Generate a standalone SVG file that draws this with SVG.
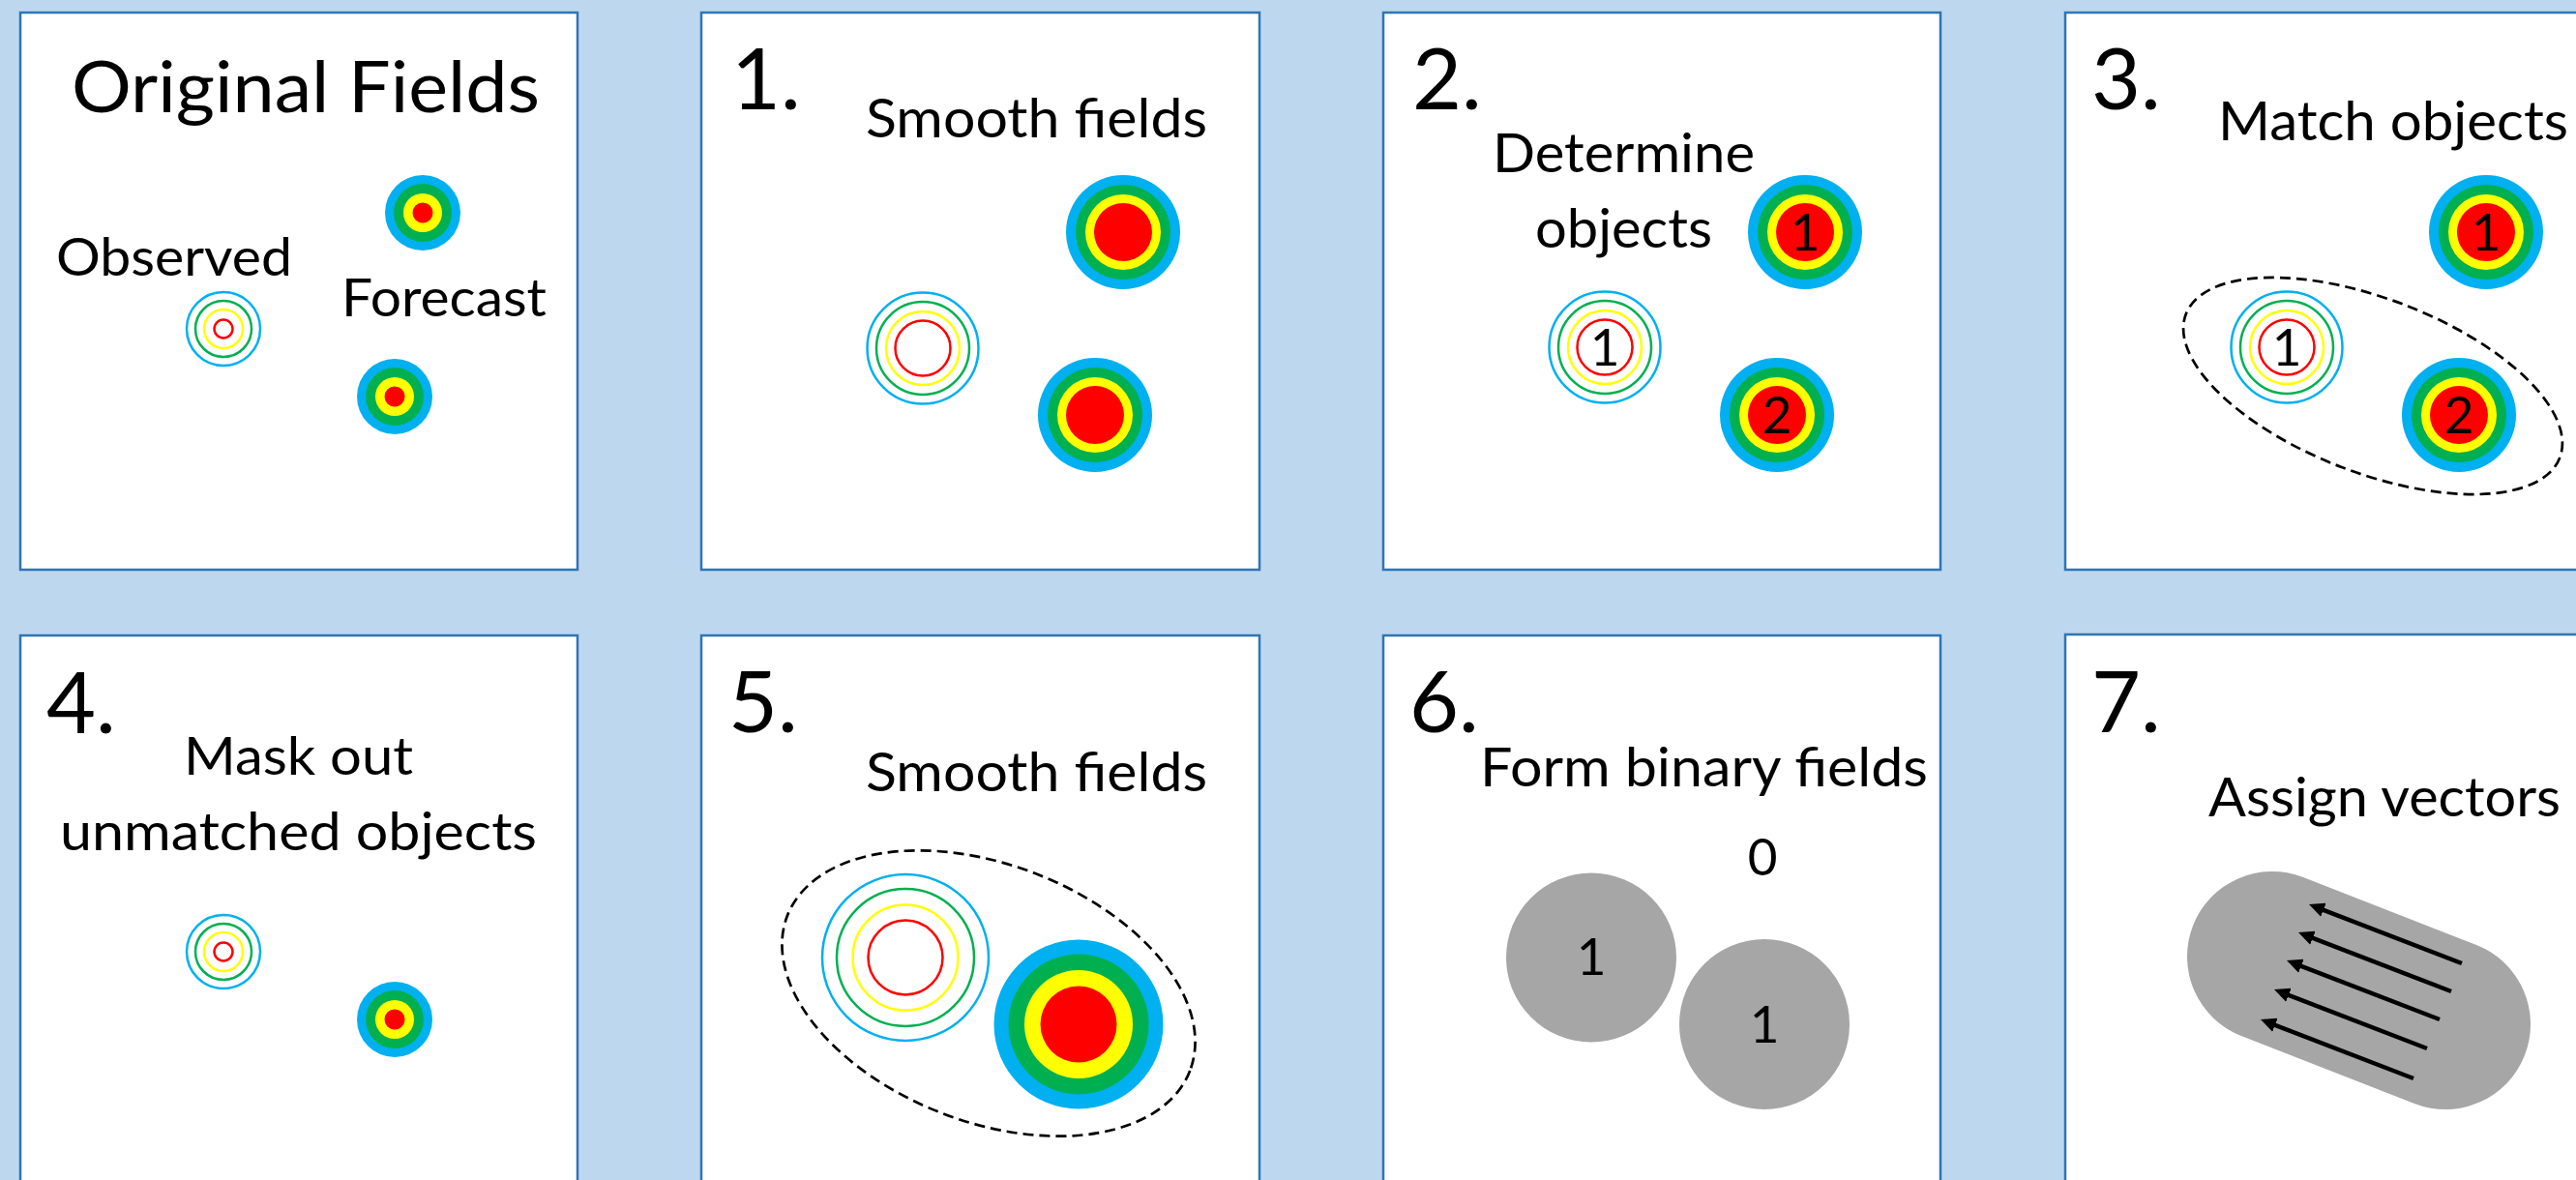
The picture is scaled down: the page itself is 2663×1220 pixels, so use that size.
<svg xmlns="http://www.w3.org/2000/svg" width="2663" height="1220" viewBox="0 0 2663 1220">
<style>
.panel{fill:#FFFFFF;stroke:#2E75B6;stroke-width:2.5}
.t{font-family:Lato,"Open Sans","Liberation Sans",sans-serif;fill:#000000}
.lbl{font-size:56px}
.num{font-size:88px}
.dig{font-size:53px;text-anchor:middle}
.fb{fill:#00B0F0}.fg{fill:#00B050}.fy{fill:#FFFF00}.fr{fill:#FF0000}
.rb{fill:none;stroke:#00B0F0;stroke-width:2.5}
.rg{fill:none;stroke:#00B050;stroke-width:2.5}
.ry{fill:none;stroke:#FFFF00;stroke-width:2.5}
.rr{fill:none;stroke:#FF0000;stroke-width:2.5}
.dash{fill:none;stroke:#000000;stroke-width:2.7;stroke-dasharray:11 6}
.gray{fill:#A6A6A6}
.vec{stroke:#000000;stroke-width:4.5;fill:none;marker-end:url(#ah)}
</style>
<defs>
<marker id="ah" viewBox="0 0 16 15" refX="7" refY="7.5" markerWidth="16" markerHeight="15" markerUnits="userSpaceOnUse" orient="auto">
<path d="M0,0 L16,7.5 L0,15 z" fill="#000000"/>
</marker>
</defs>
<rect x="0" y="0" width="2663" height="1220" fill="#BDD7EE"/>

<g id="panel-original">
<rect class="panel" x="21" y="13" width="576" height="576"/>
<text class="t" x="74" y="116" font-size="74" textLength="484" lengthAdjust="spacingAndGlyphs">Original Fields</text>
<text class="t" x="58" y="285" font-size="54" textLength="244" lengthAdjust="spacingAndGlyphs">Observed</text>
<text class="t" x="353" y="327" font-size="54" textLength="212" lengthAdjust="spacingAndGlyphs">Forecast</text>
<circle class="fb" cx="437" cy="220" r="39"/><circle class="fg" cx="437" cy="220" r="30"/><circle class="fy" cx="437" cy="220" r="20"/><circle class="fr" cx="437" cy="220" r="10.5"/>
<circle class="fb" cx="408" cy="410" r="39"/><circle class="fg" cx="408" cy="410" r="30"/><circle class="fy" cx="408" cy="410" r="20"/><circle class="fr" cx="408" cy="410" r="10.5"/>
<circle class="rb" cx="231" cy="340" r="38"/><circle class="rg" cx="231" cy="340" r="29"/><circle class="ry" cx="231" cy="340" r="20"/><circle class="rr" cx="231" cy="340" r="9.5"/>
</g>

<g id="panel-1">
<rect class="panel" x="725" y="13" width="577" height="576"/>
<text class="t num" x="756" y="113">1.</text>
<text class="t lbl" x="895" y="142" textLength="353" lengthAdjust="spacingAndGlyphs">Smooth fields</text>
<circle class="fb" cx="1161" cy="240" r="59"/><circle class="fg" cx="1161" cy="240" r="49"/><circle class="fy" cx="1161" cy="240" r="39"/><circle class="fr" cx="1161" cy="240" r="30"/>
<circle class="fb" cx="1132" cy="429" r="59"/><circle class="fg" cx="1132" cy="429" r="49"/><circle class="fy" cx="1132" cy="429" r="39"/><circle class="fr" cx="1132" cy="429" r="30"/>
<circle class="rb" cx="954" cy="360" r="57.5"/><circle class="rg" cx="954" cy="360" r="48"/><circle class="ry" cx="954" cy="360" r="38"/><circle class="rr" cx="954" cy="360" r="28.5"/>
</g>

<g id="panel-2">
<rect class="panel" x="1430" y="13" width="576" height="576"/>
<text class="t num" x="1460" y="113">2.</text>
<text class="t lbl" x="1543" y="178" textLength="271" lengthAdjust="spacingAndGlyphs">Determine</text>
<text class="t lbl" x="1587" y="256" textLength="183" lengthAdjust="spacingAndGlyphs">objects</text>
<circle class="fb" cx="1866" cy="240" r="59"/><circle class="fg" cx="1866" cy="240" r="49"/><circle class="fy" cx="1866" cy="240" r="39"/><circle class="fr" cx="1866" cy="240" r="30"/>
<text class="t dig" x="1866" y="259">1</text>
<circle class="fb" cx="1837" cy="429" r="59"/><circle class="fg" cx="1837" cy="429" r="49"/><circle class="fy" cx="1837" cy="429" r="39"/><circle class="fr" cx="1837" cy="429" r="30"/>
<text class="t dig" x="1837" y="448">2</text>
<circle class="rb" cx="1659" cy="359" r="57.5"/><circle class="rg" cx="1659" cy="359" r="48"/><circle class="ry" cx="1659" cy="359" r="38"/><circle class="rr" cx="1659" cy="359" r="28.5"/>
<text class="t dig" x="1659" y="378">1</text>
</g>

<g id="panel-3">
<rect class="panel" x="2135" y="13" width="600" height="576"/>
<text class="t num" x="2162" y="113">3.</text>
<text class="t lbl" x="2293" y="145" textLength="362" lengthAdjust="spacingAndGlyphs">Match objects</text>
<circle class="fb" cx="2570" cy="240" r="59"/><circle class="fg" cx="2570" cy="240" r="49"/><circle class="fy" cx="2570" cy="240" r="39"/><circle class="fr" cx="2570" cy="240" r="30"/>
<text class="t dig" x="2570" y="259">1</text>
<circle class="fb" cx="2542" cy="429" r="59"/><circle class="fg" cx="2542" cy="429" r="49"/><circle class="fy" cx="2542" cy="429" r="39"/><circle class="fr" cx="2542" cy="429" r="30"/>
<text class="t dig" x="2542" y="448">2</text>
<circle class="rb" cx="2364" cy="359" r="57.5"/><circle class="rg" cx="2364" cy="359" r="48"/><circle class="ry" cx="2364" cy="359" r="38"/><circle class="rr" cx="2364" cy="359" r="28.5"/>
<text class="t dig" x="2364" y="378">1</text>
<ellipse class="dash" cx="2453" cy="399" rx="207" ry="90" transform="rotate(21 2453 399)"/>
</g>

<g id="panel-4">
<rect class="panel" x="21" y="657" width="576" height="600"/>
<text class="t num" x="48" y="758">4.</text>
<text class="t" x="190" y="801" font-size="54" textLength="237" lengthAdjust="spacingAndGlyphs">Mask out</text>
<text class="t" x="62" y="879" font-size="54" textLength="493" lengthAdjust="spacingAndGlyphs">unmatched objects</text>
<circle class="rb" cx="231" cy="984" r="38"/><circle class="rg" cx="231" cy="984" r="29"/><circle class="ry" cx="231" cy="984" r="20"/><circle class="rr" cx="231" cy="984" r="9.5"/>
<circle class="fb" cx="408" cy="1054" r="39"/><circle class="fg" cx="408" cy="1054" r="30"/><circle class="fy" cx="408" cy="1054" r="20"/><circle class="fr" cx="408" cy="1054" r="10.5"/>
</g>

<g id="panel-5">
<rect class="panel" x="725" y="657" width="577" height="600"/>
<text class="t num" x="753" y="757">5.</text>
<text class="t lbl" x="895" y="818" textLength="353" lengthAdjust="spacingAndGlyphs">Smooth fields</text>
<ellipse class="dash" cx="1022" cy="1027" rx="223" ry="133" transform="rotate(21 1022 1027)"/>
<circle class="rb" cx="936" cy="990" r="86"/><circle class="rg" cx="936" cy="990" r="71"/><circle class="ry" cx="936" cy="990" r="54.5"/><circle class="rr" cx="936" cy="990" r="38.5"/>
<circle class="fb" cx="1115" cy="1059" r="87.5"/><circle class="fg" cx="1115" cy="1059" r="72.5"/><circle class="fy" cx="1115" cy="1059" r="56"/><circle class="fr" cx="1115" cy="1059" r="39.5"/>
</g>

<g id="panel-6">
<rect class="panel" x="1430" y="657" width="576" height="600"/>
<text class="t num" x="1457" y="757">6.</text>
<text class="t lbl" x="1530" y="813" textLength="463" lengthAdjust="spacingAndGlyphs">Form binary fields</text>
<text class="t dig" x="1822" y="905">0</text>
<ellipse class="gray" cx="1645" cy="990" rx="88" ry="87.5"/>
<text class="t dig" x="1645" y="1008">1</text>
<ellipse class="gray" cx="1824" cy="1059" rx="88" ry="88"/>
<text class="t dig" x="1824" y="1078">1</text>
</g>

<g id="panel-7">
<rect class="panel" x="2135" y="656" width="600" height="600"/>
<text class="t num" x="2162" y="757">7.</text>
<text class="t lbl" x="2283" y="844" textLength="364" lengthAdjust="spacingAndGlyphs">Assign vectors</text>
<line x1="2349" y1="989" x2="2528" y2="1059" stroke="#A6A6A6" stroke-width="176" stroke-linecap="round"/>
<g id="vectors">
<line class="vec" x1="2545" y1="996" x2="2395.4" y2="938.3"/>
<line class="vec" x1="2534" y1="1025" x2="2384.4" y2="967.3"/>
<line class="vec" x1="2522" y1="1054" x2="2372.4" y2="996.3"/>
<line class="vec" x1="2509" y1="1084" x2="2359.4" y2="1026.3"/>
<line class="vec" x1="2495" y1="1115" x2="2345.4" y2="1057.3"/>
</g>
</g>
</svg>
